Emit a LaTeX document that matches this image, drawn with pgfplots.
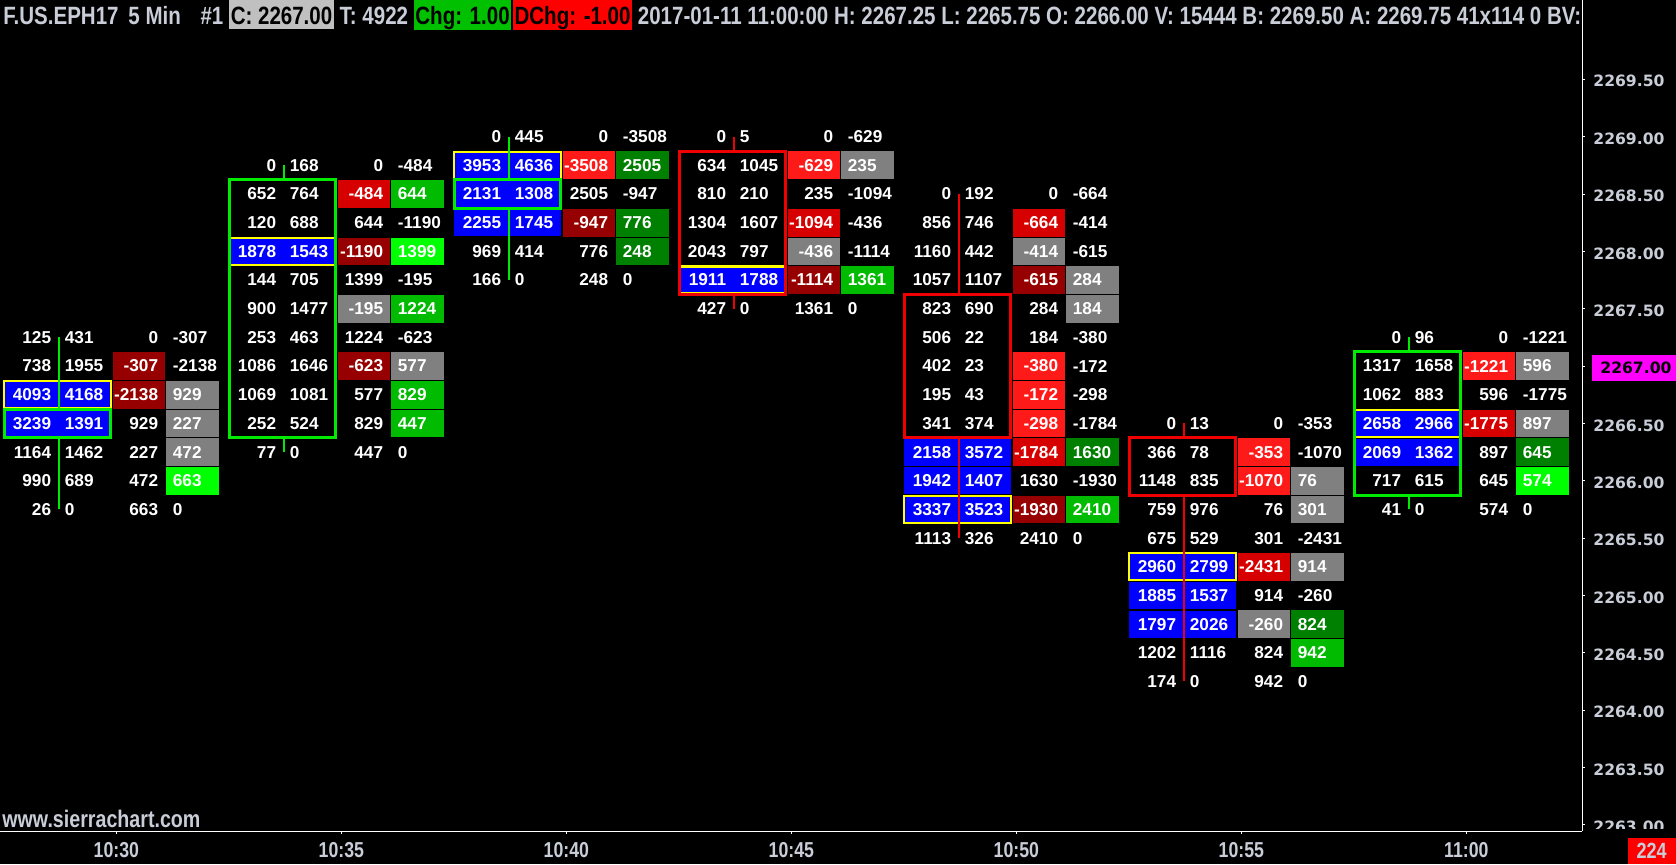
\documentclass[border=0pt]{standalone}
\usepackage{graphicx}
\usepackage{pgfplots}
\pgfplotsset{compat=1.18}
\usepackage{pgfplotstable}
\usepackage{fontspec}
\setmainfont{Liberation Sans}
\newfontfamily\djv{DejaVu Sans}
\newfontfamily\hfont{Liberation Sans}[FakeStretch=0.82]

\definecolor{RB}{RGB}{255,26,26}
\definecolor{RM}{RGB}{215,0,0}
\definecolor{RD}{RGB}{150,0,0}
\definecolor{GR}{RGB}{128,128,128}
\definecolor{GD}{RGB}{0,128,0}
\definecolor{GM}{RGB}{0,187,0}
\definecolor{GB}{RGB}{0,255,0}
\definecolor{FPB}{RGB}{0,0,255}
\definecolor{YEL}{RGB}{255,255,0}
\definecolor{WG}{RGB}{0,235,0}
\definecolor{WR}{RGB}{240,0,0}
\definecolor{HTXT}{RGB}{200,205,215}
\definecolor{HGRAY}{RGB}{192,192,192}
\definecolor{HGRN}{RGB}{0,192,0}
\definecolor{HRED}{RGB}{255,0,0}
\definecolor{MAG}{RGB}{255,0,255}

\newcommand\cellfont{\fontsize{8.6pt}{10pt}\selectfont\bfseries}
\newcommand\hs{\rule[-2.6pt]{0pt}{14.5pt}}

\pgfplotstableread{
k p bid ask d1 d2 ho yo c1 c2
0 2267.25 125 431 0 -307 0 0 black black
0 2267.00 738 1955 -307 -2138 0 0 RD black
0 2266.75 4093 4168 -2138 929 1 1 RD GR
0 2266.50 3239 1391 929 227 1 0 black GR
0 2266.25 1164 1462 227 472 0 0 black GR
0 2266.00 990 689 472 663 0 0 black GB
0 2265.75 26 0 663 0 0 0 black black
1 2268.75 0 168 0 -484 0 0 black black
1 2268.50 652 764 -484 644 0 0 RM GM
1 2268.25 120 688 644 -1190 0 0 black black
1 2268.00 1878 1543 -1190 1399 1 1 RD GB
1 2267.75 144 705 1399 -195 0 0 black black
1 2267.50 900 1477 -195 1224 0 0 GR GM
1 2267.25 253 463 1224 -623 0 0 black black
1 2267.00 1086 1646 -623 577 0 0 RD GR
1 2266.75 1069 1081 577 829 0 0 black GM
1 2266.50 252 524 829 447 0 0 black GM
1 2266.25 77 0 447 0 0 0 black black
2 2269.00 0 445 0 -3508 0 0 black black
2 2268.75 3953 4636 -3508 2505 1 1 RB GD
2 2268.50 2131 1308 2505 -947 1 0 black black
2 2268.25 2255 1745 -947 776 1 0 RD GD
2 2268.00 969 414 776 248 0 0 black GD
2 2267.75 166 0 248 0 0 0 black black
3 2269.00 0 5 0 -629 0 0 black black
3 2268.75 634 1045 -629 235 0 0 RB GR
3 2268.50 810 210 235 -1094 0 0 black black
3 2268.25 1304 1607 -1094 -436 0 0 RM black
3 2268.00 2043 797 -436 -1114 0 0 GR black
3 2267.75 1911 1788 -1114 1361 1 1 RD GM
3 2267.50 427 0 1361 0 0 0 black black
4 2268.50 0 192 0 -664 0 0 black black
4 2268.25 856 746 -664 -414 0 0 RM black
4 2268.00 1160 442 -414 -615 0 0 GR black
4 2267.75 1057 1107 -615 284 0 0 RD GR
4 2267.50 823 690 284 184 0 0 black GR
4 2267.25 506 22 184 -380 0 0 black black
4 2267.00 402 23 -380 -172 0 0 RB black
4 2266.75 195 43 -172 -298 0 0 RB black
4 2266.50 341 374 -298 -1784 0 0 RB black
4 2266.25 2158 3572 -1784 1630 1 0 RM GD
4 2266.00 1942 1407 1630 -1930 1 0 black black
4 2265.75 3337 3523 -1930 2410 1 1 RD GM
4 2265.50 1113 326 2410 0 0 0 black black
5 2266.50 0 13 0 -353 0 0 black black
5 2266.25 366 78 -353 -1070 0 0 RB black
5 2266.00 1148 835 -1070 76 0 0 RB GR
5 2265.75 759 976 76 301 0 0 black GR
5 2265.50 675 529 301 -2431 0 0 black black
5 2265.25 2960 2799 -2431 914 1 1 RM GR
5 2265.00 1885 1537 914 -260 1 0 black black
5 2264.75 1797 2026 -260 824 1 0 GR GD
5 2264.50 1202 1116 824 942 0 0 black GM
5 2264.25 174 0 942 0 0 0 black black
6 2267.25 0 96 0 -1221 0 0 black black
6 2267.00 1317 1658 -1221 596 0 0 RB GR
6 2266.75 1062 883 596 -1775 0 0 black black
6 2266.50 2658 2966 -1775 897 1 1 RM GR
6 2266.25 2069 1362 897 645 1 0 black GD
6 2266.00 717 615 645 574 0 0 black GB
6 2265.75 41 0 574 0 0 0 black black
}\fpdata

\begin{document}
\begin{tikzpicture}
\fill[black] (0,0) rectangle (838pt,-432pt);
\useasboundingbox (0,0) rectangle (838pt,-432pt);
\begin{axis}[
  at={(0,0)}, anchor=north west,
  scale only axis, width=791pt, height=415.5pt,
  xmin=-0.26, xmax=6.7711, ymin=2262.9464, ymax=2270.1914,
  clip mode=individual,
  axis x line*=bottom, axis y line*=right,
  axis line style={white, line width=0.5pt},
  tick align=outside, major tick length=1.5pt,
  tick style={white, line width=0.5pt},
  xtick={0.257,1.257,2.257,3.257,4.257,5.257,6.257},
  xticklabels={10:30,10:35,10:40,10:45,10:50,10:55,11:00},
  xticklabel style={anchor=center, yshift=-8pt, text=HTXT, font=\hfont\bfseries\fontsize{10.8}{12}\selectfont},
  ytick={2263,2263.5,2264,2264.5,2265,2265.5,2266,2266.5,2267.5,2268,2268.5,2269,2269.5},
  yticklabels={2263.00,2263.50,2264.00,2264.50,2265.00,2265.50,2266.00,2266.50,2267.50,2268.00,2268.50,2269.00,2269.50},
  yticklabel style={anchor=west, inner xsep=1pt, inner ysep=0pt, xshift=3pt, yshift=-1pt, text=HTXT, font=\djv\bfseries\fontsize{7.8}{9.4}\selectfont},
  extra y ticks={2267}, extra y tick labels={2267.00},
  extra y tick style={yticklabel style={fill=MAG, text=black, inner xsep=4pt, inner ysep=3.4pt, xshift=0.5pt}},
  fillcell/.style={only marks, mark=none, point meta=explicit symbolic, nodes near coords={}},
  numcell/.style={only marks, mark=none, point meta=explicit symbolic, nodes near coords},
]
% blue footprint cells
\addplot[fillcell,
  nodes near coords style={anchor=center, xshift=-0.5pt, inner sep=0pt,
    minimum width=53.4pt, minimum height=13.5pt, fill=FPB, fill opacity=\pgfplotspointmeta}]
  table[x=k,y=p,meta=ho]{\fpdata};
% yellow boxes
\addplot[fillcell,
  nodes near coords style={anchor=center, xshift=-0.5pt, inner sep=0pt,
    minimum width=53.4pt, minimum height=13.5pt, draw=YEL, draw opacity=\pgfplotspointmeta, line width=1.1pt}]
  table[x=k,y=p,meta=yo]{\fpdata};
% delta column fills
\addplot[fillcell,
  nodes near coords style={anchor=center, xshift=40pt, inner sep=0pt,
    minimum width=26pt, minimum height=13.85pt, fill=\pgfplotspointmeta}]
  table[x=k,y=p,meta=c1]{\fpdata};
\addplot[fillcell,
  nodes near coords style={anchor=center, xshift=66.75pt, inner sep=0pt,
    minimum width=26.5pt, minimum height=13.85pt, fill=\pgfplotspointmeta}]
  table[x=k,y=p,meta=c2]{\fpdata};
% numbers
\addplot[numcell, nodes near coords style={anchor=east, xshift=-3.5pt, inner sep=0pt, text=white, font=\cellfont}]
  table[x=k,y=p,meta=bid]{\fpdata};
\addplot[numcell, nodes near coords style={anchor=west, xshift=3pt, inner sep=0pt, text=white, font=\cellfont}]
  table[x=k,y=p,meta=ask]{\fpdata};
\addplot[numcell, nodes near coords style={anchor=east, xshift=50pt, inner sep=0pt, text=white, font=\cellfont}]
  table[x=k,y=p,meta=d1]{\fpdata};
\addplot[numcell, nodes near coords style={anchor=west, xshift=57pt, inner sep=0pt, text=white, font=\cellfont}]
  table[x=k,y=p,meta=d2]{\fpdata};
% wicks (high to body top, body bottom to low)
\addplot[WG, line width=1pt] coordinates {(0,2267.25) (0,2266.625)};
\addplot[WG, line width=1pt] coordinates {(0,2266.375) (0,2265.75)};
\addplot[WG, line width=1pt] coordinates {(1,2268.75) (1,2268.625)};
\addplot[WG, line width=1pt] coordinates {(1,2266.375) (1,2266.25)};
\addplot[WG, line width=1pt] coordinates {(2,2269.00) (2,2268.625)};
\addplot[WG, line width=1pt] coordinates {(2,2268.375) (2,2267.75)};
\addplot[WR, line width=1pt] coordinates {(3,2269.00) (3,2268.875)};
\addplot[WR, line width=1pt] coordinates {(3,2267.625) (3,2267.50)};
\addplot[WR, line width=1pt] coordinates {(4,2268.50) (4,2267.625)};
\addplot[WR, line width=1pt] coordinates {(4,2266.375) (4,2265.50)};
\addplot[WR, line width=1pt] coordinates {(5,2266.50) (5,2266.375)};
\addplot[WR, line width=1pt] coordinates {(5,2265.875) (5,2264.25)};
\addplot[WG, line width=1pt] coordinates {(6,2267.25) (6,2267.125)};
\addplot[WG, line width=1pt] coordinates {(6,2265.875) (6,2265.75)};
% bodies (open/close boxes)
\addplot[WG, line width=1.5pt, line cap=rect] coordinates {(-0.24,2266.625) (0.2311,2266.625) (0.2311,2266.375) (-0.24,2266.375) (-0.24,2266.625)};
\addplot[WG, line width=1.5pt, line cap=rect] coordinates {(0.76,2268.625) (1.2311,2268.625) (1.2311,2266.375) (0.76,2266.375) (0.76,2268.625)};
\addplot[WG, line width=1.5pt, line cap=rect] coordinates {(1.76,2268.625) (2.2311,2268.625) (2.2311,2268.375) (1.76,2268.375) (1.76,2268.625)};
\addplot[WR, line width=1.5pt, line cap=rect] coordinates {(2.76,2268.875) (3.2311,2268.875) (3.2311,2267.625) (2.76,2267.625) (2.76,2268.875)};
\addplot[WR, line width=1.5pt, line cap=rect] coordinates {(3.76,2267.625) (4.2311,2267.625) (4.2311,2266.375) (3.76,2266.375) (3.76,2267.625)};
\addplot[WR, line width=1.5pt, line cap=rect] coordinates {(4.76,2266.375) (5.2311,2266.375) (5.2311,2265.875) (4.76,2265.875) (4.76,2266.375)};
\addplot[WG, line width=1.5pt, line cap=rect] coordinates {(5.76,2267.125) (6.2311,2267.125) (6.2311,2265.875) (5.76,2265.875) (5.76,2267.125)};
\end{axis}
\fill[black] (791.6pt,-414.6pt) rectangle (838pt,-418.5pt);
\setlength{\fboxsep}{0pt}
\node[anchor=north west, inner sep=0pt, text=HTXT, font=\fontsize{12.5}{13}\selectfont\bfseries] at (1.5pt,0pt)
 {\resizebox{789pt}{\height}{\hs F.US.EPH17\hspace{6pt}5 Min\hspace{12pt}\#1 \colorbox{HGRAY}{\hs\kern1pt\color{black}C: 2267.00\kern1pt} T: 4922 \colorbox{HGRN}{\hs\kern1pt\color{black}Chg: 1.00\kern1pt}\kern1pt\colorbox{HRED}{\hs\kern1pt\color{black}DChg: -1.00\kern1pt} 2017-01-11 11:00:00 H: 2267.25 L: 2265.75 O: 2266.00 V: 15444 B: 2269.50 A: 2269.75 41x114 0 BV:}};
\node[anchor=west, inner sep=0pt, text=HTXT, font=\fontsize{12}{13}\selectfont\bfseries] at (1pt,-409.5pt) {\resizebox{99pt}{\height}{www.sierrachart.com}};
\node[anchor=south east, inner sep=0pt, fill=HRED, text=HTXT, minimum width=24pt, minimum height=13pt, font=\hfont\bfseries\fontsize{11}{12}\selectfont] at (838pt,-432pt) {224};
\end{tikzpicture}
\end{document}
